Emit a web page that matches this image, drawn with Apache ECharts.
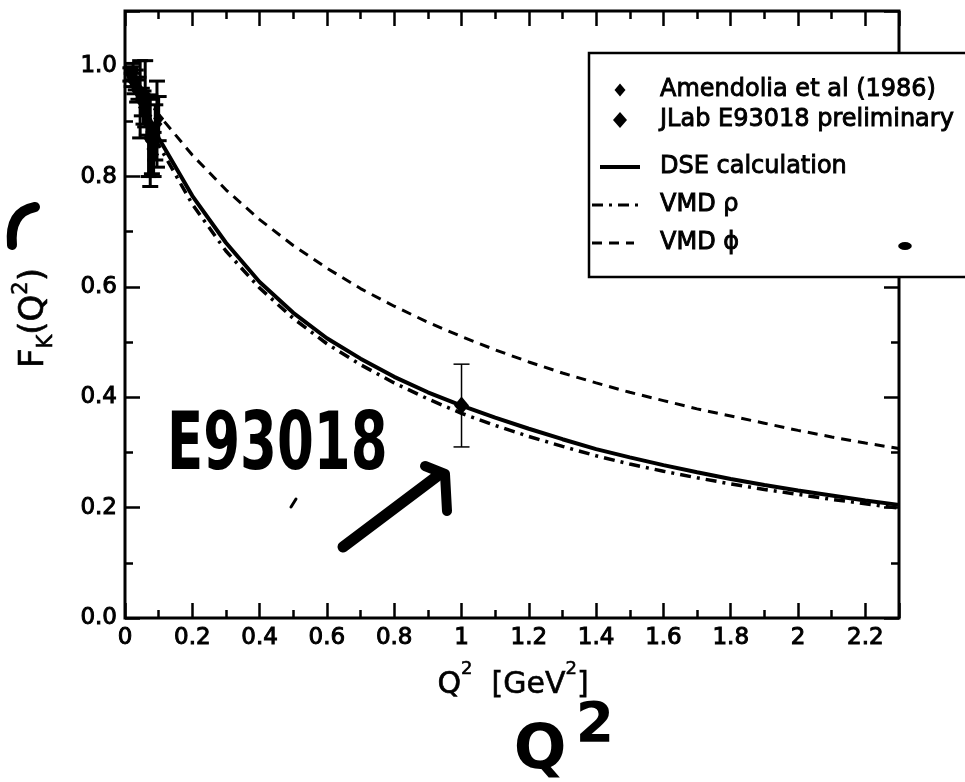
<!DOCTYPE html>
<html>
<head>
<meta charset="utf-8">
<script src="https://cdn.jsdelivr.net/npm/echarts@6/dist/echarts.min.js"></script>
<style>
  html, body { margin: 0; padding: 0; background: #fff; }
  #chart { width: 965px; height: 782px; }
</style>
</head>
<body>
<div id="chart"></div>
<script>
// Q² sample points (GeV²) for the model curves
const curveQ2 = [0, 0.1, 0.2, 0.3, 0.4, 0.5, 0.6, 0.7, 0.8, 0.9, 1.0, 1.1, 1.2, 1.3, 1.4, 1.5, 1.6, 1.7, 1.8, 1.9, 2.0, 2.1, 2.2, 2.3];
// DSE calculation
const dseF = [1.0, 0.87, 0.765, 0.68, 0.609, 0.553, 0.507, 0.47, 0.437, 0.409, 0.385, 0.363, 0.343, 0.324, 0.306, 0.291, 0.277, 0.264, 0.252, 0.241, 0.231, 0.222, 0.213, 0.205];
// VMD with rho pole
const vmdRhoF = [1.0, 0.857, 0.75, 0.665, 0.598, 0.543, 0.497, 0.459, 0.426, 0.397, 0.371, 0.349, 0.329, 0.311, 0.294, 0.279, 0.266, 0.254, 0.243, 0.233, 0.224, 0.215, 0.207, 0.199];
// VMD with phi pole
const vmdPhiF = [1.0, 0.912, 0.839, 0.776, 0.722, 0.675, 0.634, 0.597, 0.565, 0.536, 0.51, 0.486, 0.464, 0.444, 0.426, 0.409, 0.394, 0.379, 0.366, 0.353, 0.34, 0.328, 0.317, 0.307];

// Amendolia et al (1986)
const amendoliaQ2 = [0.016, 0.020, 0.024, 0.028, 0.032, 0.036, 0.040, 0.045, 0.050, 0.055, 0.060, 0.065, 0.070, 0.075, 0.080, 0.085, 0.090, 0.095, 0.100];
const amendoliaF = [0.985, 0.975, 0.99, 0.965, 0.975, 0.955, 0.96, 0.94, 0.935, 0.925, 0.95, 0.91, 0.87, 0.865, 0.85, 0.84, 0.88, 0.895, 0.905];
const amendoliaErr = [0.012, 0.012, 0.015, 0.015, 0.018, 0.02, 0.02, 0.07, 0.025, 0.03, 0.06, 0.035, 0.07, 0.083, 0.045, 0.04, 0.05, 0.078, 0.04];

// JLab E93018 preliminary
const jlabQ2 = [1.0];
const jlabF = [0.385];
const jlabErr = [0.075];

// Axis tick labels
const xTickLabels = ['0', '0.2', '0.4', '0.6', '0.8', '1', '1.2', '1.4', '1.6', '1.8', '2', '2.2'];
const yTickLabels = ['0.0', '0.2', '0.4', '0.6', '0.8', '1.0'];

const FONT = '"DejaVu Sans", "Liberation Sans", sans-serif';

function pairs(xs, ys) { return xs.map((x, i) => [x, ys[i]]); }

function labelFor(list, step) {
  return function (v) {
    const i = Math.round(v / step);
    return Math.abs(v - i * step) < 1e-6 && list[i] !== undefined ? list[i] : '';
  };
}

function errorBars(q, f, e, capHalf, width) {
  return {
    type: 'custom',
    silent: true,
    z: 3,
    data: q.map((x, i) => [x, f[i] - e[i], f[i] + e[i]]),
    encode: { x: 0, y: [1, 2] },
    renderItem(params, api) {
      const lo = api.coord([api.value(0), api.value(1)]);
      const hi = api.coord([api.value(0), api.value(2)]);
      const style = { stroke: '#000', lineWidth: width };
      return {
        type: 'group',
        children: [
          { type: 'line', shape: { x1: lo[0], y1: lo[1], x2: hi[0], y2: hi[1] }, style },
          { type: 'line', shape: { x1: lo[0] - capHalf, y1: lo[1], x2: lo[0] + capHalf, y2: lo[1] }, style },
          { type: 'line', shape: { x1: hi[0] - capHalf, y1: hi[1], x2: hi[0] + capHalf, y2: hi[1] }, style }
        ]
      };
    }
  };
}

const tickStyle = { color: '#000', width: 2.5 };
const labelStyle = {
  color: '#000', fontFamily: FONT, fontSize: 23,
  textBorderColor: '#000', textBorderWidth: 1
};

// grid 0 carries the major ticks (every 0.2) and the data; grid 1 overlays the minor ticks (every 0.1)
function xAxisDef(grid, position, interval, len, showLabel) {
  return {
    gridIndex: grid, type: 'value', min: 0, max: 2.3, interval, position,
    axisLine: { show: false, onZero: false }, splitLine: { show: false },
    axisTick: { show: true, inside: true, length: len, lineStyle: tickStyle },
    axisLabel: showLabel
      ? Object.assign({ margin: 9, formatter: labelFor(xTickLabels, 0.2) }, labelStyle)
      : { show: false }
  };
}
function yAxisDef(grid, position, interval, len, showLabel) {
  return {
    gridIndex: grid, type: 'value', min: 0, max: 1.1, interval, position,
    axisLine: { show: false, onZero: false }, splitLine: { show: false },
    axisTick: { show: true, inside: true, length: len, lineStyle: tickStyle },
    axisLabel: showLabel
      ? Object.assign({ margin: 8, formatter: labelFor(yTickLabels, 0.2) }, labelStyle)
      : { show: false }
  };
}

function diamond(cx, cy, w, h) {
  return {
    type: 'polygon', z: 101,
    shape: { points: [[cx, cy - h / 2], [cx + w / 2, cy], [cx, cy + h / 2], [cx - w / 2, cy]] },
    style: { fill: '#000' }
  };
}
function legendText(y, text) {
  return {
    type: 'text', x: 660, y, z: 101,
    style: { text, font: '24px ' + FONT, fill: '#000', stroke: '#000', lineWidth: 0.9, verticalAlign: 'middle', align: 'left' }
  };
}
function legendLine(x1, x2, y, width, dash) {
  return {
    type: 'line', z: 101,
    shape: { x1, y1: y, x2, y2: y },
    style: { stroke: '#000', lineWidth: width, lineDash: dash || null }
  };
}

const gridBox = { left: 125, right: 66, top: 11, bottom: 164 };

const chart = echarts.init(document.getElementById('chart'), null, { renderer: 'canvas' });

chart.setOption({
  animation: false,
  backgroundColor: '#fff',
  grid: [
    Object.assign({ show: true, borderColor: '#000', borderWidth: 3, backgroundColor: 'transparent' }, gridBox),
    Object.assign({ show: false }, gridBox)
  ],
  xAxis: [
    xAxisDef(0, 'bottom', 0.2, 15, true),
    xAxisDef(0, 'top', 0.2, 15, false),
    xAxisDef(1, 'bottom', 0.1, 8, false),
    xAxisDef(1, 'top', 0.1, 8, false)
  ],
  yAxis: [
    yAxisDef(0, 'left', 0.2, 15, true),
    yAxisDef(0, 'right', 0.2, 15, false),
    yAxisDef(1, 'left', 0.1, 8, false),
    yAxisDef(1, 'right', 0.1, 8, false)
  ],
  series: [
    {
      name: 'VMD φ', type: 'line', data: pairs(curveQ2, vmdPhiF),
      showSymbol: false, silent: true, z: 2,
      lineStyle: { color: '#000', width: 3, type: [10, 7] }
    },
    {
      name: 'VMD ρ', type: 'line', data: pairs(curveQ2, vmdRhoF),
      showSymbol: false, silent: true, z: 2,
      lineStyle: { color: '#000', width: 3.5, type: [11, 6, 3, 6] }
    },
    {
      name: 'DSE calculation', type: 'line', data: pairs(curveQ2, dseF),
      showSymbol: false, silent: true, z: 2,
      lineStyle: { color: '#000', width: 4 }
    },
    errorBars(amendoliaQ2, amendoliaF, amendoliaErr, 8, 3),
    errorBars(jlabQ2, jlabF, jlabErr, 8, 1.5),
    {
      name: 'Amendolia et al (1986)', type: 'scatter', data: pairs(amendoliaQ2, amendoliaF),
      symbol: 'diamond', symbolSize: [11, 13], silent: true, z: 4,
      itemStyle: { color: '#000', opacity: 1 }
    },
    {
      name: 'JLab E93018 preliminary', type: 'scatter', data: pairs(jlabQ2, jlabF),
      symbol: 'diamond', symbolSize: [15, 18], silent: true, z: 4,
      itemStyle: { color: '#000', opacity: 1 }
    }
  ],
  graphic: [
    // axis titles
    {
      type: 'text', x: 513, y: 680, z: 50,
      style: {
        text: '{m|Q}{s|2}{m|  [GeV}{s|2}{m|]}',
        align: 'center', verticalAlign: 'middle', fill: '#000', stroke: '#000', lineWidth: 0.6,
        rich: {
          m: { fontFamily: FONT, fontSize: 30, lineHeight: 40, verticalAlign: 'bottom' },
          s: { fontFamily: FONT, fontSize: 18, lineHeight: 18, verticalAlign: 'top' }
        }
      }
    },
    {
      type: 'text', x: 34, y: 318, rotation: Math.PI / 2, z: 50,
      style: {
        text: '{m|F}{b|K}{m|(Q}{s|2}{m|)}',
        align: 'center', verticalAlign: 'middle', fill: '#000', stroke: '#000', lineWidth: 0.6,
        rich: {
          m: { fontFamily: FONT, fontSize: 34, lineHeight: 46, verticalAlign: 'middle' },
          s: { fontFamily: FONT, fontSize: 21, lineHeight: 21, verticalAlign: 'top' },
          b: { fontFamily: FONT, fontSize: 21, lineHeight: 21, verticalAlign: 'bottom' }
        }
      }
    },
    // legend box
    {
      type: 'rect', z: 100,
      shape: { x: 589, y: 53, width: 380, height: 224 },
      style: { fill: '#fff', stroke: '#000', lineWidth: 2.5 }
    },
    diamond(620, 90, 11, 13),
    legendText(90, 'Amendolia et al (1986)'),
    diamond(620, 120, 14, 16),
    legendText(120, 'JLab E93018 preliminary'),
    legendLine(600, 640, 167, 4),
    legendText(167, 'DSE calculation'),
    legendLine(592, 638, 205, 3, [11, 6, 3, 6]),
    legendText(205, 'VMD ρ'),
    legendLine(592, 634, 243, 3, [10, 7]),
    legendText(243, 'VMD ϕ'),
    // pen annotations
    {
      type: 'text', x: 167, y: 448, scaleY: 1.5, z: 60,
      style: { text: 'E93018', font: 'bold 53px ' + FONT, fill: '#000', align: 'left', verticalAlign: 'middle' }
    },
    {
      type: 'bezierCurve', z: 60,
      shape: { x1: 343, y1: 547, cpx1: 392, cpy1: 510, x2: 440, y2: 474 },
      style: { fill: null, stroke: '#000', lineWidth: 11, lineCap: 'round' }
    },
    {
      type: 'polyline', z: 60,
      shape: { points: [[425, 466], [445, 474], [447, 511]] },
      style: { fill: null, stroke: '#000', lineWidth: 10, lineCap: 'round', lineJoin: 'round' }
    },
    {
      type: 'text', x: 540, y: 752, z: 60,
      style: { text: 'Q', font: 'bold 62px ' + FONT, fill: '#000', align: 'center', verticalAlign: 'middle' }
    },
    {
      type: 'text', x: 595, y: 727, z: 60,
      style: { text: '2', font: 'bold 55px ' + FONT, fill: '#000', align: 'center', verticalAlign: 'middle' }
    },
    {
      type: 'bezierCurve', z: 60,
      shape: { x1: 35, y1: 207, cpx1: 9, cpy1: 212, x2: 12, y2: 245 },
      style: { fill: null, stroke: '#000', lineWidth: 10, lineCap: 'round' }
    },
    {
      type: 'line', z: 60,
      shape: { x1: 296, y1: 499, x2: 291, y2: 507 },
      style: { stroke: '#000', lineWidth: 3, lineCap: 'round' }
    },
    {
      type: 'circle', z: 102, x: 905, y: 246, scaleX: 1.7,
      shape: { cx: 0, cy: 0, r: 4 },
      style: { fill: '#000' }
    }
  ]
});
</script>
</body>
</html>
